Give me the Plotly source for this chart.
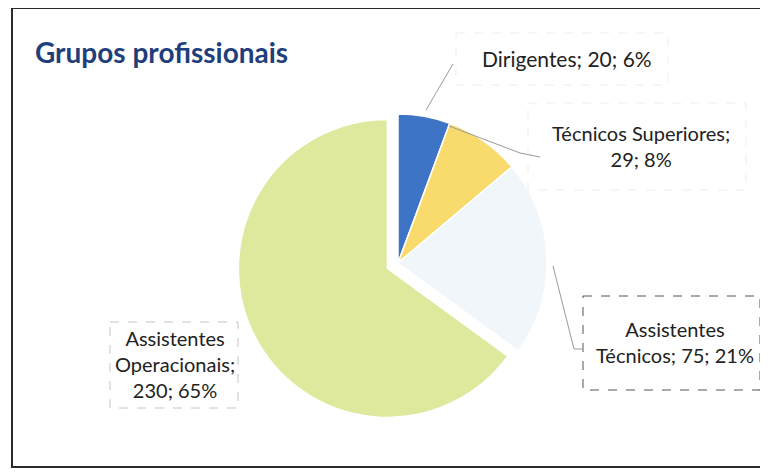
import plotly.graph_objects as go

# ---- data ----
categories = ["Dirigentes", "Técnicos Superiores", "Assistentes Técnicos", "Assistentes Operacionais"]
values = [20, 29, 75, 230]
percents = [6, 8, 21, 65]
colors = ["#3d74c6", "#f9da6c", "#f0f6fa", "#dfe99d"]
pulls = [0, 0, 0, 0.08]

# page has an 8px body margin: figure is drawn 8px in from the window's top-left
OFF = 8
W, H = 768 - OFF, 473 - OFF

def px(x):
    return (x - OFF) / W

def py(y):
    return 1 - (y - OFF) / H

# pie geometry (window pixels)
CX, CY, R = 398, 263, 149
half = R * (1 + max(pulls))
dom_x = [px(CX - half), px(CX + half)]
dom_y = [py(CY + half), py(CY - half)]

fig = go.Figure()
fig.add_trace(go.Pie(
    labels=categories, values=values, sort=False, direction="clockwise", rotation=0,
    marker=dict(colors=colors, line=dict(color="white", width=1.5)),
    pull=pulls, textinfo="none", hoverinfo="label+value+percent", showlegend=False,
    domain=dict(x=dom_x, y=dom_y),
))

texts = [
    f"{categories[0]}; {values[0]}; {percents[0]}%",
    f"{categories[1]};<br>{values[1]}; {percents[1]}%",
    f"Assistentes<br>Técnicos; {values[2]}; {percents[2]}%",
    f"Assistentes<br>Operacionais;<br>{values[3]}; {percents[3]}%",
]
pos = [(567, 58), (641, 146), (675, 342), (175, 364)]
font = dict(family="Lato, Carlito, sans-serif", size=20, color="#222222")
annotations = []
for i, (t, (x, y)) in enumerate(zip(texts, pos)):
    f = dict(font)
    if i == 0:
        f["size"] = 21
    annotations.append(dict(text=t, x=px(x), y=py(y), xref="paper", yref="paper",
                            xanchor="center", yanchor="middle", showarrow=False,
                            font=f, align="center"))
annotations.append(dict(text="<b>Grupos profissionais</b>", x=px(33), y=py(52), xref="paper", yref="paper",
                        xanchor="left", yanchor="middle", showarrow=False,
                        font=dict(family="Lato, Carlito, sans-serif", size=28, color="#1f3f7c")))

shapes = []
# frame
shapes.append(dict(type="rect", xref="paper", yref="paper", x0=px(12), x1=px(763), y0=py(8), y1=py(467),
                   line=dict(color="#2b2b2b", width=2)))
# label boxes
boxes = [(456, 33, 668, 85, "#ededed"), (528, 103, 746, 190, "#ededed"),
         (583, 296, 760, 390, "#555555"), (110, 322, 238, 408, "#c4c4c4")]
for x0, y0, x1, y1, c in boxes:
    shapes.append(dict(type="rect", xref="paper", yref="paper", x0=px(x0), x1=px(x1), y0=py(y0), y1=py(y1),
                       line=dict(color=c, width=1, dash="dash")))
# leader lines
leaders = [
    [(426, 110), (453, 64)],
    [(449, 126), (520, 153), (540, 157)],
    [(553, 266), (574, 349), (583, 349)],
]
for pts in leaders:
    path = "M " + " L ".join(f"{px(x)},{py(y)}" for x, y in pts)
    shapes.append(dict(type="path", xref="paper", yref="paper", path=path,
                       line=dict(color="#9a9a9a", width=1)))

fig.update_layout(width=W, height=H, margin=dict(l=0, r=0, t=0, b=0),
                  paper_bgcolor="white", plot_bgcolor="white",
                  annotations=annotations, shapes=shapes)
fig.write_html("out.html")
